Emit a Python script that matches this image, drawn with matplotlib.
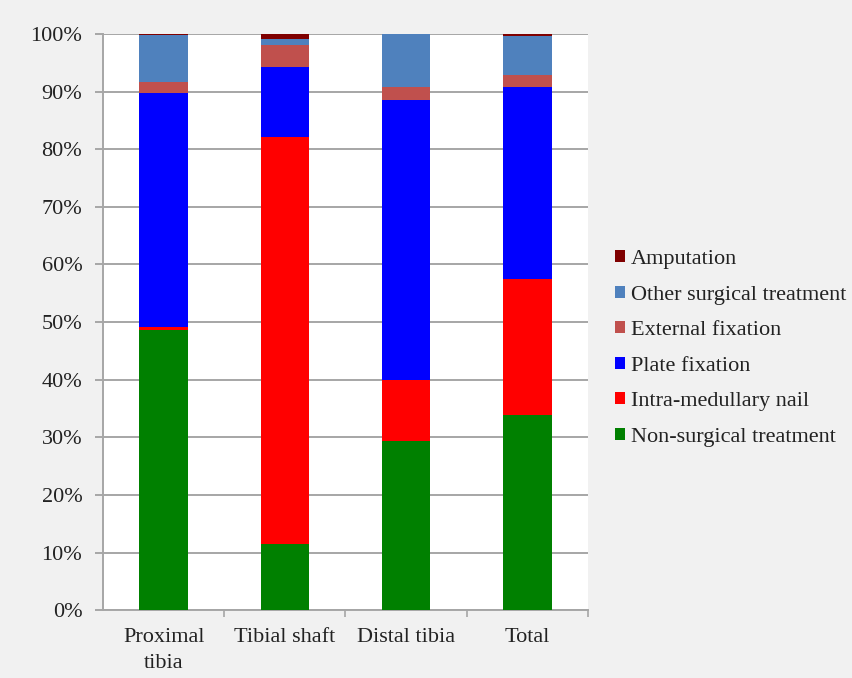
import numpy as np
import matplotlib.pyplot as plt
from matplotlib.patches import Patch
from matplotlib.ticker import PercentFormatter, FixedLocator

plt.rcParams['font.family'] = ['Liberation Serif', 'DejaVu Serif']
plt.rcParams['text.color'] = '#222222'
plt.rcParams['xtick.labelcolor'] = '#222222'
plt.rcParams['ytick.labelcolor'] = '#222222'

categories = ['Proximal\ntibia', 'Tibial shaft', 'Distal tibia', 'Total']
series = ['Non-surgical treatment', 'Intra-medullary nail', 'Plate fixation',
          'External fixation', 'Other surgical treatment', 'Amputation']
non_surgical = [48.7, 11.5, 29.4, 33.8]
im_nail = [0.5, 70.6, 10.5, 23.7]
plate = [40.6, 12.2, 48.6, 33.3]
ext_fix = [1.9, 3.8, 2.3, 2.1]
other = [8.1, 1.1, 9.2, 6.8]
amputation = [0.2, 0.8, 0.0, 0.3]
colors = ['#008000', '#ff0000', '#0000ff', '#c0504d', '#4f81bd', '#7f0000']

values = [non_surgical, im_nail, plate, ext_fix, other, amputation]

fig = plt.figure(figsize=(8.52, 6.78), dpi=100, facecolor='#f1f1f1')
ax = fig.add_axes([0.121, 0.1, 0.569, 0.85])
ax.set_facecolor('white')

x = np.arange(len(categories))
bottom = np.zeros(len(categories))
for vals, col in zip(values, colors):
    ax.bar(x, vals, width=0.4, bottom=bottom, color=col, zorder=3)
    bottom += np.array(vals)

ax.set_xlim(-0.5, 3.5)
ax.set_ylim(0, 100)
ax.set_yticks(np.arange(0, 101, 10))
ax.yaxis.set_major_formatter(PercentFormatter(decimals=0))
ax.grid(axis='y', color='#a6a6a6', linewidth=1.4, zorder=0)
ax.tick_params(axis='y', length=6, color='#a6a6a6', width=1.4, labelsize=16, pad=9)

ax.set_xticks(x)
ax.set_xticklabels(categories, fontsize=16, linespacing=1.45)
ax.tick_params(axis='x', length=0, pad=13)
ax.xaxis.set_minor_locator(FixedLocator([0.5, 1.5, 2.5, 3.5]))
ax.tick_params(axis='x', which='minor', length=5, color='#a6a6a6', width=1.2)

for side in ['top', 'right']:
    ax.spines[side].set_visible(False)
for side in ['left', 'bottom']:
    ax.spines[side].set_color('#a6a6a6')
    ax.spines[side].set_linewidth(1.4)

handles = [Patch(facecolor=c, label=s) for s, c in zip(series, colors)][::-1]
fig.legend(handles=handles, loc='center left', bbox_to_anchor=(0.722, 0.486),
           frameon=False, fontsize=16, handlelength=0.45, handleheight=0.45,
           handletextpad=0.25, labelspacing=0.74, borderpad=0, borderaxespad=0)

fig.savefig('out.png', dpi=100, facecolor=fig.get_facecolor())
